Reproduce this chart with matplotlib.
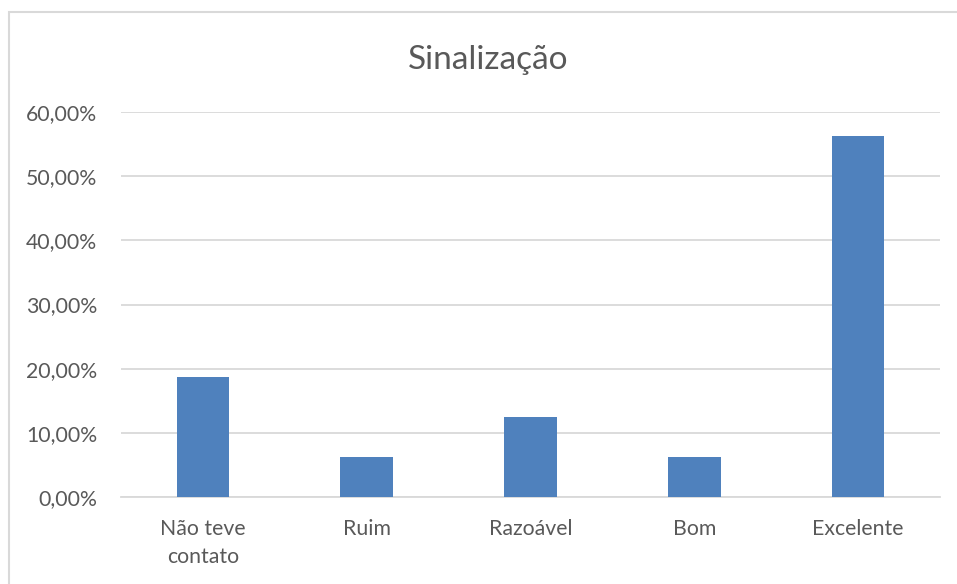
import matplotlib.pyplot as plt
from matplotlib.patches import Rectangle
import numpy as np

categories = ['Não teve\ncontato', 'Ruim', 'Razoável', 'Bom', 'Excelente']
shares = [0.1875, 0.0625, 0.125, 0.0625, 0.5625]
yticks = [0.0, 0.1, 0.2, 0.3, 0.4, 0.5, 0.6]

plt.rcParams['font.family'] = ['Lato', 'DejaVu Sans']
txtColor = '#595959'

fig = plt.figure(figsize=(9.57, 5.84), dpi=100)
# light frame around the chart area
fig.patches.append(Rectangle((9 / 957, -0.1), 1.2, 0.1 + 1 - 12 / 584,
                             transform=fig.transFigure, fill=False,
                             edgecolor='#d9d9d9', linewidth=1.5))

ax = fig.add_axes([121 / 957, 1 - 497 / 584, (940 - 121) / 957, (497 - 112) / 584])
x = np.arange(len(categories))
ax.bar(x, shares, width=0.32, color='#4f81bd', zorder=3)

ax.set_xlim(-0.5, len(categories) - 0.5)
ax.set_ylim(0, 0.6)
ax.set_yticks(yticks)
ax.set_yticklabels([('%.2f%%' % (v * 100)).replace('.', ',') for v in yticks])
ax.set_xticks(x)
ax.set_xticklabels(categories)
ax.grid(axis='y', color='#d9d9d9', linewidth=1.3, zorder=0)
for s in ['top', 'right', 'left']:
    ax.spines[s].set_visible(False)
ax.spines['bottom'].set_color('#d9d9d9')
ax.spines['bottom'].set_linewidth(1.3)
ax.tick_params(axis='both', length=0, labelsize=15.3, colors=txtColor)
ax.tick_params(axis='y', pad=17)
ax.tick_params(axis='x', pad=16)
for lab in ax.get_xticklabels():
    lab.set_linespacing(1.5)

fig.text(488 / 957, 1 - 60 / 584, 'Sinalização', ha='center',
         va='center', fontsize=24, color=txtColor)

fig.savefig('out.png', dpi=100)
